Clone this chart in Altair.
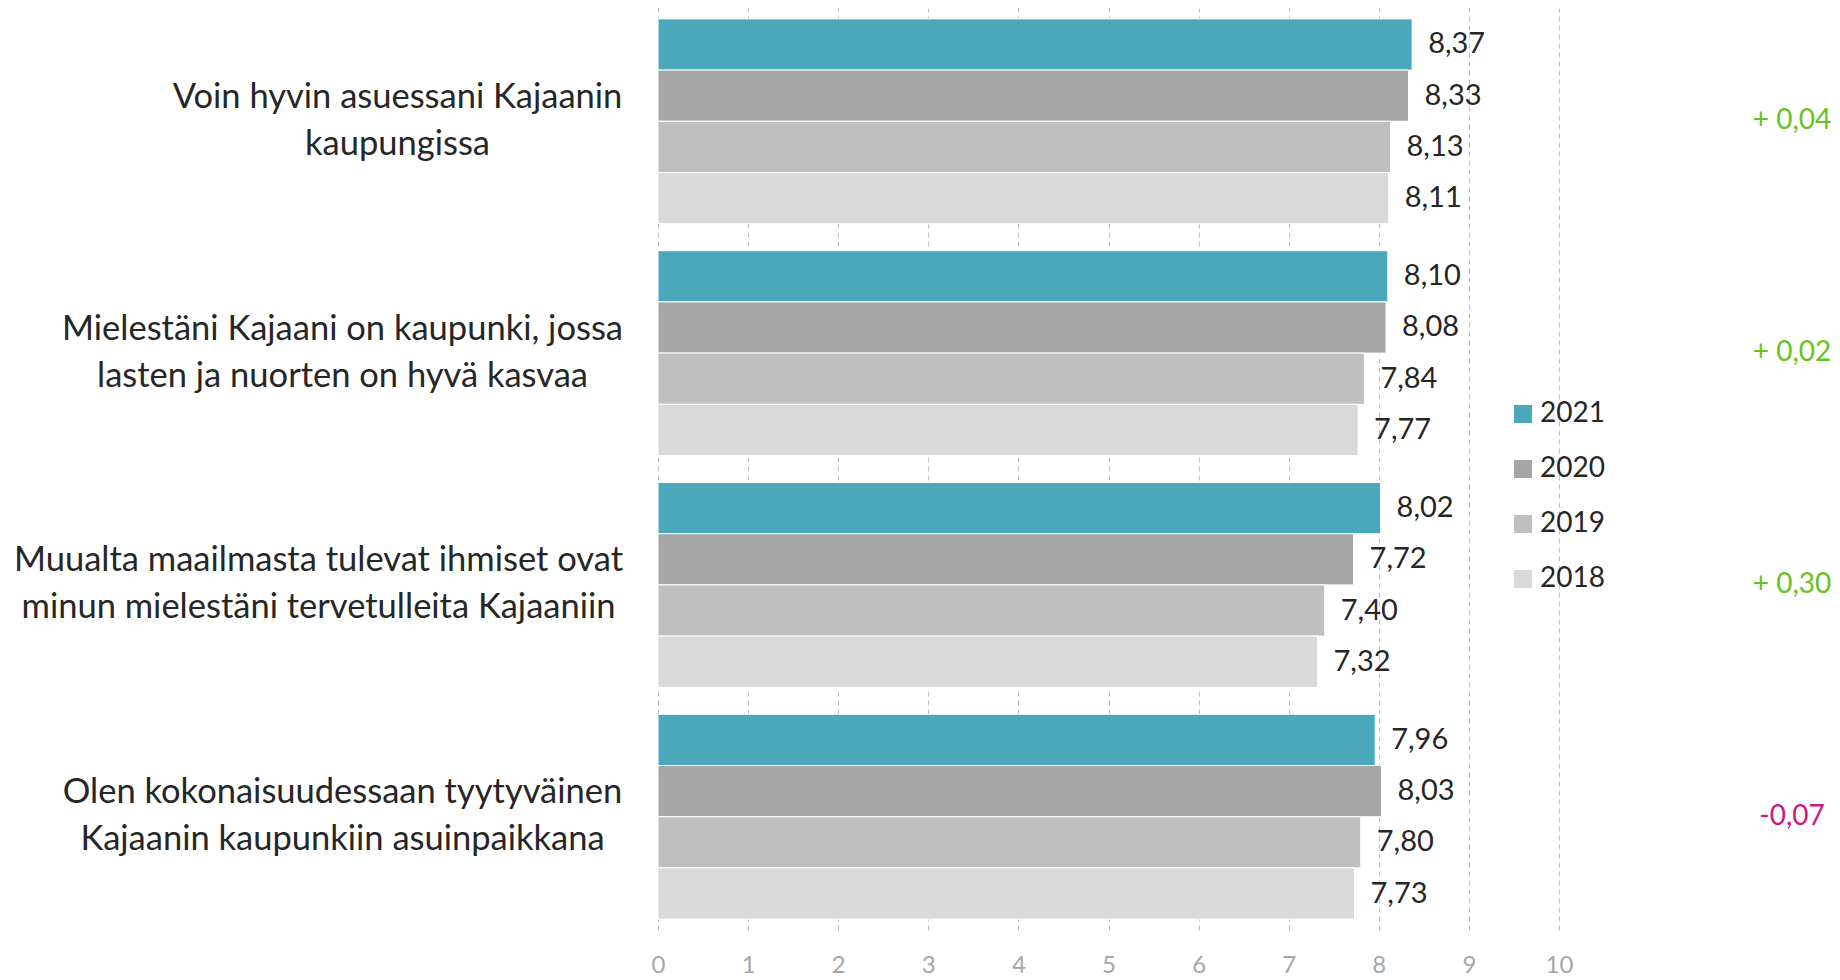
import altair as alt
import pandas as pd

# ---- data ----
categories = [
    "Voin hyvin asuessani Kajaanin|kaupungissa",
    "Mielestäni Kajaani on kaupunki, jossa|lasten ja nuorten on hyvä kasvaa",
    "Muualta maailmasta tulevat ihmiset ovat|minun mielestäni tervetulleita Kajaaniin",
    "Olen kokonaisuudessaan tyytyväinen|Kajaanin kaupunkiin asuinpaikkana",
]
years = ["2021", "2020", "2019", "2018"]
v2021 = [8.37, 8.10, 8.02, 7.96]
v2020 = [8.33, 8.08, 7.72, 8.03]
v2019 = [8.13, 7.84, 7.40, 7.80]
v2018 = [8.11, 7.77, 7.32, 7.73]
diffs = [0.04, 0.02, 0.30, -0.07]
x_ticks = [0, 1, 2, 3, 4, 5, 6, 7, 8, 9, 10]

series = {"2021": v2021, "2020": v2020, "2019": v2019, "2018": v2018}
rows = []
for y in years:
    for c, v in zip(categories, series[y]):
        rows.append({"category": c, "year": y, "value": v})
df = pd.DataFrame(rows)
df_diff = pd.DataFrame({"category": categories, "diff": diffs})

colors = ["#4BA7BC", "#A6A6A6", "#BFBFBF", "#D9D9D9"]
FONT = "Lato"
W, H = 901, 922

# per-label padding so that each centred two-line block ends near the axis
pads = [261, 316, 340, 316]
pad_cond = [{"test": f"datum.value == '{c}'", "value": p} for c, p in zip(categories, pads)]

y_enc = alt.Y(
    "category:N",
    sort=categories,
    title=None,
    scale=alt.Scale(paddingInner=0.1165, paddingOuter=0.047),
    axis=alt.Axis(
        labelExpr="split(datum.label, '|')",
        labelAlign="center",
        labelBaseline="middle",
        labelFont=FONT,
        labelFontSize=34.5,
        labelLineHeight=47,
        labelOffset=-23.5,
        labelColor="#262626",
        labelPadding={"condition": pad_cond, "value": 300},
        labelLimit=1000,
        ticks=False,
        tickSize=0,
        domain=False,
        grid=False,
    ),
)
yoff = alt.YOffset("year:N", sort=years, scale=alt.Scale(paddingInner=0, paddingOuter=0))

x_enc = alt.X(
    "value:Q",
    title=None,
    scale=alt.Scale(domain=[0, 10], nice=False),
    axis=alt.Axis(
        values=x_ticks,
        format="d",
        labelFlush=False,
        labelFont=FONT,
        labelFontSize=24,
        labelColor="#A6A6A6",
        labelPadding=23,
        ticks=False,
        domain=False,
        grid=True,
        gridDash=[5, 4],
        gridColor="#BFBFBF",
        gridWidth=1,
    ),
)

bars = alt.Chart(df).mark_bar(stroke="white", strokeWidth=1).encode(
    x=x_enc,
    y=y_enc,
    yOffset=yoff,
    color=alt.Color(
        "year:N",
        sort=years,
        scale=alt.Scale(domain=years, range=colors),
        legend=alt.Legend(
            title=None,
            orient="none",
            legendX=851,
            legendY=392,
            symbolType="square",
            symbolSize=324,
            symbolStrokeWidth=0,
            labelFont=FONT,
            labelFontSize=28,
            labelColor="#262626",
            labelOffset=3,
            rowPadding=27,
            padding=0,
        ),
    ),
)

labels = alt.Chart(df).transform_calculate(
    lbl="replace(format(datum.value, '.2f'), '.', ',')"
).mark_text(align="left", baseline="middle", dx=16, font=FONT, fontSize=29, color="#262626").encode(
    x="value:Q",
    y=alt.Y("category:N", sort=categories),
    yOffset=alt.YOffset("year:N", sort=years),
    text="lbl:N",
)

diff_text = alt.Chart(df_diff).transform_calculate(
    lbl="datum.diff >= 0 ? '+ ' + replace(format(datum.diff, '.2f'), '.', ',') : '-' + replace(format(abs(datum.diff), '.2f'), '.', ',')"
).mark_text(align="center", baseline="middle", font=FONT, fontSize=28).encode(
    x=alt.value(W + 233),
    y=alt.Y("category:N", sort=categories),
    text="lbl:N",
    color=alt.condition("datum.diff >= 0", alt.value("#66C21E"), alt.value("#D0177F")),
)

chart = (
    alt.layer(bars, labels, diff_text)
    .properties(
        width=W,
        height=H,
        autosize=alt.AutoSizeParams(type="none"),
        padding={"left": 650, "top": 0, "right": 273, "bottom": 50},
    )
    .configure_view(stroke=None)
)

chart.save("out.html", embed_options={"renderer": "svg", "actions": False})
